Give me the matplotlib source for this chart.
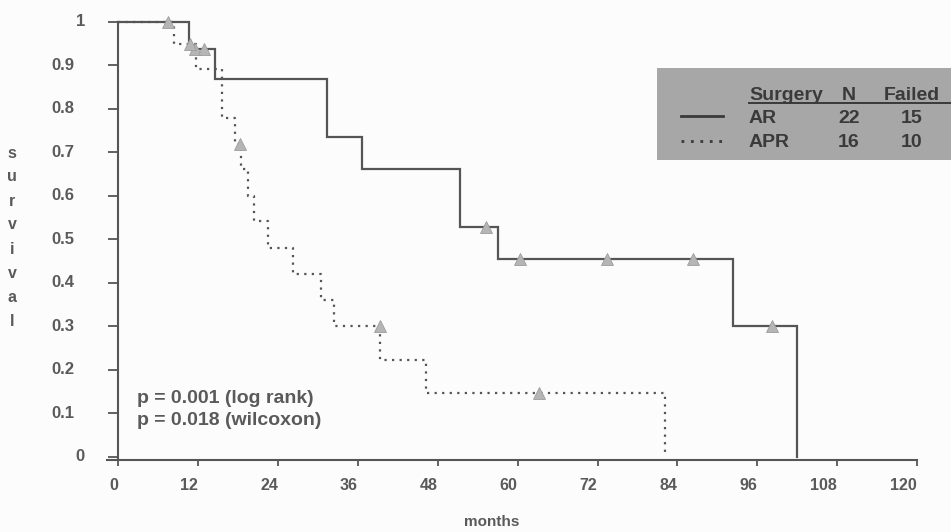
import matplotlib
matplotlib.use('Agg')
import matplotlib.pyplot as plt
from matplotlib.lines import Line2D
from matplotlib.patches import Rectangle
from matplotlib.transforms import blended_transform_factory

# ---- data ----
ar_months = [0, 10.6, 14.6, 31.4, 36.6, 51.3, 57.0, 92.3, 102.0]
ar_surv = [1.0, 0.937, 0.869, 0.736, 0.663, 0.528, 0.455, 0.30, 0.0]
ar_cens_months = [11.5, 12.8, 55.3, 60.4, 73.4, 86.3, 98.2]
ar_cens_surv = [0.937, 0.937, 0.528, 0.455, 0.455, 0.455, 0.30]

apr_months = [0, 8.4, 11.6, 15.6, 17.5, 18.4, 19.5, 20.4, 22.5, 26.3, 30.4, 32.4, 39.3, 46.3, 82.2]
apr_surv = [1.0, 0.95, 0.892, 0.78, 0.72, 0.663, 0.601, 0.543, 0.48, 0.42, 0.36, 0.30, 0.222, 0.147, 0.0]
apr_cens_months = [7.5, 10.8, 18.3, 39.3, 63.2]
apr_cens_surv = [1.0, 0.95, 0.72, 0.30, 0.147]

x_ticks = [0, 12, 24, 36, 48, 60, 72, 84, 96, 108, 120]
x_tick_labels = ['0', '12', '24', '36', '48', '60', '72', '84', '96', '108', '120']
y_ticks = [0, 0.1, 0.2, 0.3, 0.4, 0.5, 0.6, 0.7, 0.8, 0.9, 1.0]
y_tick_labels = ['0', '0.1', '0.2', '0.3', '0.4', '0.5', '0.6', '0.7', '0.8', '0.9', '1']

surgery = ['AR', 'APR']
n_patients = [22, 16]
n_failed = [15, 10]
stats_lines = ['p = 0.001 (log rank)', 'p = 0.018 (wilcoxon)']

# ---- styling ----
W, H = 951, 532
AX = '#555555'
TXT = '#5a5a5a'
LEG_TXT = '#3a3a3a'
FONT = 'Liberation Sans'

def fx(px):
    return px / W

def fy(py):
    return 1 - py / H

fig = plt.figure(figsize=(W / 100, H / 100), dpi=100, facecolor='#fcfcfc')
ax = fig.add_axes([fx(107), fy(460), (917 - 107) / W, (460 - 15) / H])
ax.set_facecolor('none')

ax.step(ar_months, ar_surv, where='post', color=AX, lw=1.6, clip_on=False,
        solid_joinstyle='miter')
ax.step(apr_months, apr_surv, where='post', color=AX, lw=1.6, clip_on=False,
        linestyle=(0, (1, 2.4)), dash_capstyle='butt')

mk = dict(marker='^', linestyle='none', markersize=8, color='#b5b5b5',
          markeredgecolor='#9c9c9c', markeredgewidth=0.6, clip_on=False, zorder=3)
ax.plot(ar_cens_months, ar_cens_surv, **mk)
ax.plot(apr_cens_months, apr_cens_surv, **mk)

ax.set_xlim(-1.7, 120)
ax.set_ylim(-0.007, 1.016)

for s in ['top', 'right']:
    ax.spines[s].set_visible(False)
ax.spines['left'].set_position(('data', 0))
ax.spines['left'].set_bounds(-0.007, 1.0)
ax.spines['bottom'].set_bounds(-1.7, 120)
for s in ['left', 'bottom']:
    ax.spines[s].set_color(AX)
    ax.spines[s].set_linewidth(1.5)

ax.set_xticks(x_ticks)
ax.set_xticklabels(x_tick_labels, ha='right', fontsize=11.5, fontweight='bold',
                   color=TXT, family=FONT)
ax.tick_params(axis='x', direction='out', length=4.5, width=1.3, color=AX, pad=8.5)

ax.set_yticks(y_ticks)
ax.set_yticklabels([])
ax.tick_params(axis='y', direction='out', length=7, width=1.3, color=AX)

ytr = blended_transform_factory(fig.transFigure, ax.transData)
for v, lab in zip(y_ticks, y_tick_labels):
    xr = 85 if '.' not in lab else 74
    ax.text(fx(xr), v, lab, transform=ytr, ha='right', va='center', fontsize=12,
            fontweight='bold', color=TXT, family=FONT)

# stacked y-axis label
for i, ch in enumerate('survival'):
    fig.text(fx(12), fy(153 + i * 24), ch, ha='center', va='center', fontsize=11.5,
             fontweight='bold', color=TXT, family=FONT)

fig.text(fx(492), fy(522), 'months', ha='center', va='center', fontsize=11,
         fontweight='bold', color=TXT, family=FONT)

# p-values
fig.text(fx(137), fy(403), stats_lines[0], ha='left', va='baseline', fontsize=14,
         fontweight='bold', color=TXT, family=FONT)
fig.text(fx(137), fy(425), stats_lines[1], ha='left', va='baseline', fontsize=14,
         fontweight='bold', color=TXT, family=FONT)

# legend box
fig.patches.append(Rectangle((fx(657), fy(160)), (W - 657) / W, 92 / H,
                             transform=fig.transFigure, facecolor='#a7a7a7',
                             edgecolor='none', zorder=0))
lkw = dict(fontsize=14, fontweight='bold', color=LEG_TXT, family=FONT, va='baseline')
fig.text(fx(749), fy(100), 'Surgery', ha='left', **lkw)
fig.text(fx(849), fy(100), 'N', ha='center', **lkw)
fig.text(fx(911.5), fy(100), 'Failed', ha='center', **lkw)
fig.add_artist(Line2D([fx(749), fx(951)], [fy(102.5), fy(102.5)], color=LEG_TXT,
                      lw=1.4, transform=fig.transFigure))
row_y = [123.3, 147.3]
styles = [dict(linestyle='-'), dict(linestyle=(0, (1, 2.4)), dash_capstyle='butt')]
line_y = [116, 141]
for i in range(len(surgery)):
    fig.text(fx(749), fy(row_y[i]), surgery[i], ha='left', **lkw)
    fig.text(fx(849), fy(row_y[i]), str(n_patients[i]), ha='center', **lkw)
    fig.text(fx(911.5), fy(row_y[i]), str(n_failed[i]), ha='center', **lkw)
    fig.add_artist(Line2D([fx(681), fx(723)], [fy(line_y[i]), fy(line_y[i])],
                          color=LEG_TXT, lw=2.0, transform=fig.transFigure, **styles[i]))

fig.savefig('out.png', dpi=100, facecolor=fig.get_facecolor())
